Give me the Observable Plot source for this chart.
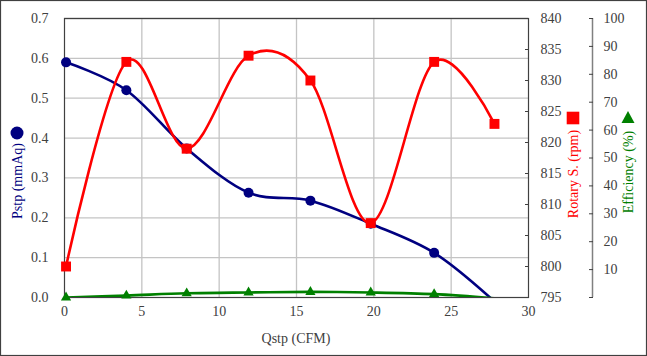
<!DOCTYPE html>
<html><head><meta charset="utf-8">
<script src="https://cdn.jsdelivr.net/npm/d3@7"></script>
<script src="https://cdn.jsdelivr.net/npm/@observablehq/plot@0.6"></script>
<style>body{margin:0;background:#fff}</style>
</head><body><div id="chart"></div>
<script>
// ---- data ----
const qstp       = [0.1, 4.0, 7.9, 11.9, 15.9, 19.8, 23.9, 27.8];
const pstp       = [0.59, 0.52, 0.374, 0.263, 0.243, 0.185, 0.112, -0.01];
const rotary     = [800, 833, 819, 834, 830, 807, 833, 823];
const efficiency = [0, 0.7, 1.5, 1.8, 2.0, 1.8, 1.2, -0.3];

const xTicks   = [0, 5, 10, 15, 20, 25, 30];
const pTicks   = [0, 0.1, 0.2, 0.3, 0.4, 0.5, 0.6, 0.7];
const rpmTicks = [795, 800, 805, 810, 815, 820, 825, 830, 835, 840];
const effTicks = [0, 10, 20, 30, 40, 50, 60, 70, 80, 90, 100];

const titles = {x: "Qstp (CFM)", p: "Pstp (mmAq)", r: "Rotary S. (rpm)", e: "Efficiency (%)"};
const colors = {p: "#000080", r: "#ff0000", e: "#008000"};

// map secondary axes onto the primary (0..0.7) y scale
const P_MAX = 0.7, R_MIN = 795, R_MAX = 840, E_MAX = 100;
const rpmY = r => (r - R_MIN) / (R_MAX - R_MIN) * P_MAX;
const effY = e => e / E_MAX * P_MAX;

const data = qstp.map((q, i) => ({q, p: pstp[i], r: rotary[i], e: efficiency[i]}));

const W = 647, H = 356;
const font = "Liberation Serif";
const textColor = "#404040";
const ax = {fontSize: 14, fontFamily: font, color: textColor, label: null};

const svg = Plot.plot({
  width: W, height: H,
  marginLeft: 64, marginRight: 119, marginTop: 18, marginBottom: 59,
  style: {fontFamily: font, fontSize: "14px", background: "#fff", overflow: "visible"},
  x: {domain: [0, 30]},
  y: {domain: [0, P_MAX]},
  marks: [
    Plot.gridY(pTicks.slice(1), {stroke: "#c4c4c4", strokeOpacity: 1, strokeWidth: 1.3}),
    Plot.gridX(xTicks.slice(1, -1), {stroke: "#c4c4c4", strokeOpacity: 1, strokeWidth: 1.3}),
    Plot.frame({stroke: "#404040", strokeWidth: 1.2}),
    Plot.axisX(xTicks, {...ax, tickSize: 0, tickPadding: 9}),
    Plot.axisY(pTicks, {...ax, anchor: "left", tickSize: 0, tickPadding: 16, tickFormat: d => d.toFixed(1)}),
    Plot.axisY(rpmTicks.map(rpmY), {...ax, anchor: "right", tickSize: -4, tickPadding: 16,
      tickFormat: d => Math.round(R_MIN + d / P_MAX * (R_MAX - R_MIN))}),
    Plot.ruleX([30], {dx: 64, stroke: "#808080", strokeWidth: 1.5}),
    Plot.axisY(effTicks.map(effY), {...ax, anchor: "right", dx: 64, tickSize: -4, tickPadding: 15,
      tickFormat: d => { const v = Math.round(d / P_MAX * E_MAX); return v === 0 ? "" : v; }}),
    // Pstp
    Plot.line(data, {x: "q", y: "p", stroke: colors.p, strokeWidth: 2.6, curve: "cardinal", clip: true}),
    Plot.dot(data.filter(d => d.p >= 0), {x: "q", y: "p", r: 5, fill: colors.p, symbol: "circle"}),
    // Rotary speed
    Plot.line(data, {x: "q", y: d => rpmY(d.r), stroke: colors.r, strokeWidth: 2.6, curve: "cardinal", clip: true}),
    Plot.dot(data, {x: "q", y: d => rpmY(d.r), r: 5.6, fill: colors.r, symbol: "square"}),
    // Efficiency
    Plot.line(data, {x: "q", y: d => effY(d.e), stroke: colors.e, strokeWidth: 2.6, curve: "cardinal", clip: true}),
    Plot.dot(data.filter(d => d.e >= 0), {x: "q", y: d => effY(d.e), r: 3.8, fill: colors.e, symbol: "triangle"})
  ]
});

const s = d3.select(svg);
// outer border
s.append("rect").attr("x", 0.5).attr("y", 0.5).attr("width", W - 1).attr("height", H - 1)
  .attr("fill", "none").attr("stroke", "#404040").attr("stroke-width", 1.2);

// x title
s.append("text").attr("x", 296).attr("y", 338).attr("text-anchor", "middle").attr("dominant-baseline", "central")
  .attr("font-size", 14).attr("fill", textColor).text(titles.x);

function vTitle(x, y, txt, color) {
  s.append("text").attr("transform", `translate(${x},${y}) rotate(-90)`)
    .attr("text-anchor", "middle").attr("dominant-baseline", "central")
    .attr("font-size", 14).attr("fill", color).text(txt);
}
vTitle(17, 181, titles.p, colors.p);
s.append("circle").attr("cx", 17).attr("cy", 133).attr("r", 6.5).attr("fill", colors.p);

vTitle(573, 174, titles.r, colors.r);
s.append("rect").attr("x", 573 - 6.3).attr("y", 118 - 6.3).attr("width", 12.6).attr("height", 12.6).attr("fill", colors.r);

vTitle(628, 172, titles.e, colors.e);
s.append("path").attr("d", `M${628 - 6.5},${123} L${628 + 6.5},${123} L628,${111} Z`).attr("fill", colors.e);

// force the serif face on every text element
s.selectAll("text, g").each(function() {
  this.style.setProperty("font-family", "'Liberation Serif', serif", "important");
  this.style.setProperty("font-variant", "normal", "important");
});

document.getElementById("chart").appendChild(svg);
</script>
</body></html>
